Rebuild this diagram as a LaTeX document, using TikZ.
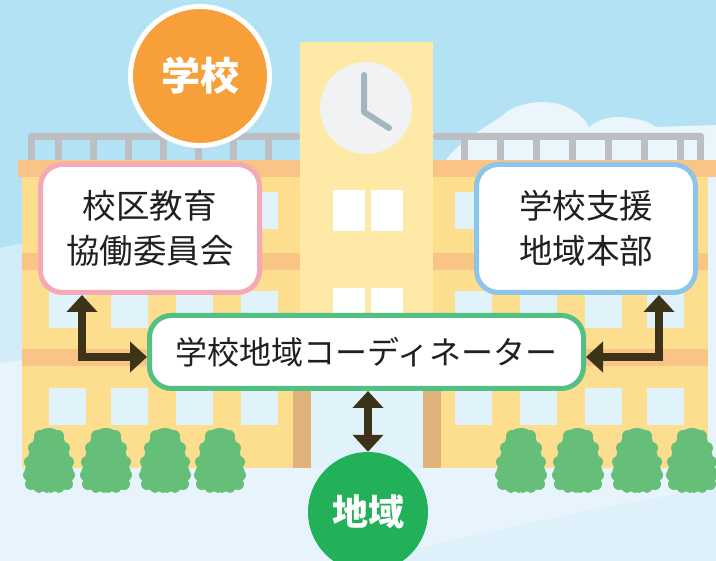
\documentclass[tikz,border=0pt]{standalone}
\usepackage{fontspec}
\setmainfont{Noto Sans CJK JP}
\usetikzlibrary{arrows.meta}

\definecolor{sky}{HTML}{B4E2F5}
\definecolor{hillblue}{HTML}{D3ECF9}
\definecolor{groundpale}{HTML}{E7F4FB}
\definecolor{grounddeep}{HTML}{DEF0FA}
\definecolor{cloudwhite}{HTML}{EAF6FC}
\definecolor{wallyellow}{HTML}{FCDE8E}
\definecolor{toweryellow}{HTML}{FEEAA6}
\definecolor{bandorange}{HTML}{FAC487}
\definecolor{glass}{HTML}{E0F2FA}
\definecolor{rail}{HTML}{BDBEC1}
\definecolor{pillar}{HTML}{E1B37B}
\definecolor{clockface}{HTML}{F0F2F4}
\definecolor{clockhand}{HTML}{A3B5BF}
\definecolor{leaf}{HTML}{66BF78}
\definecolor{schoolorange}{HTML}{F7A03A}
\definecolor{areagreen}{HTML}{22B159}
\definecolor{pinkline}{HTML}{F4A9B6}
\definecolor{blueline}{HTML}{8DC5EA}
\definecolor{greenline}{HTML}{52BF83}
\definecolor{arrowbrown}{HTML}{3C3318}
\definecolor{ink}{HTML}{231F20}

\tikzset{
  infobox/.style={draw, fill=white, line width=5pt, rounded corners=22pt,
    inner sep=0pt, align=center, text=ink},
  badge/.style={circle, inner sep=0pt, text=white},
  link/.style={draw=arrowbrown, line width=8pt, line join=miter,
    {Triangle[width=30pt,length=17pt]}-{Triangle[width=30pt,length=17pt]}},
  tree/.pic={
    \fill[leaf]
      (0,17) circle[radius=16pt]
      (-8,31) circle[radius=13pt] (8,31) circle[radius=13pt]
      (-12,47) circle[radius=13pt] (12,47) circle[radius=13pt]
      (0,51) circle[radius=14pt]
      (-9,55) circle[radius=10pt] (9,55) circle[radius=10pt]
      (-9,9) circle[radius=6pt] (9,9) circle[radius=6pt]
      (-15,21) circle[radius=6pt] (15,21) circle[radius=6pt]
      (-19,35) circle[radius=6pt] (19,35) circle[radius=6pt]
      (-20,48) circle[radius=6pt] (20,48) circle[radius=6pt]
      (-18,57) circle[radius=6pt] (18,57) circle[radius=6pt]
      (-10,61) circle[radius=5pt] (10,61) circle[radius=5pt]
      (-2,61) circle[radius=5pt] (2,61) circle[radius=5pt];
  }
}

\begin{document}
\begin{tikzpicture}[x=1pt,y=-1pt]
\useasboundingbox (0,0) rectangle (716,561);

% sky, cloud and ground
\fill[sky] (0,0) rectangle (716,561);
\fill[cloudwhite] (446,160) .. controls (460,140) and (490,125) .. (503,115)
  .. controls (515,103) and (545,98) .. (565,106)
  .. controls (578,112) and (586,120) .. (589,128)
  .. controls (595,120) and (610,115) .. (630,118)
  .. controls (645,120) and (652,124) .. (656,127)
  -- (716,125) -- (716,170) -- (446,170) -- cycle;
\fill[hillblue] (0,248) .. controls (40,238) and (120,236) .. (220,242)
  -- (220,561) -- (0,561) -- cycle;
\fill[groundpale] (0,363) .. controls (150,345) and (500,230) .. (716,170)
  -- (716,561) -- (0,561) -- cycle;
\fill[grounddeep] (360,561) .. controls (480,535) and (600,505) .. (716,488)
  -- (716,561) -- cycle;

% roof railings
\fill[rail, rounded corners=3pt] (28,133) rectangle (300,140);
\foreach \px in {28,55,90,125,160,195,230,265}
  \fill[rail] (\px,136) rectangle ++(7,24);
\fill[rail, rounded corners=3pt] (433,133) rectangle (704,140);
\foreach \px in {461,497,533,569,605,641,677,697}
  \fill[rail] (\px,136) rectangle ++(7,24);

% wings
\fill[wallyellow] (22,177) rectangle (300,468);
\fill[wallyellow] (433,177) rectangle (708,468);
\fill[bandorange] (18,160) rectangle (300,177);
\fill[bandorange] (433,160) rectangle (716,177);
\foreach \by in {253,349} {
  \fill[bandorange] (22,\by) rectangle (300,\by+17);
  \fill[bandorange] (433,\by) rectangle (708,\by+17);
}
\foreach \wy in {192,291,388} {
  \foreach \wx in {49,111,176,241}
    \fill[glass] (\wx,\wy) rectangle ++(37,37);
  \foreach \wx in {455,520,585,647}
    \fill[glass] (\wx,\wy) rectangle ++(37,37);
}

% clock tower with entrance
\fill[toweryellow] (300,42) rectangle (433,385);
\fill[glass] (300,385) rectangle (433,468);
\fill[pillar] (293,385) rectangle (311,468);
\fill[pillar] (423,385) rectangle (441,468);
\foreach \wy in {190,288} {
  \fill[white] (333,\wy) rectangle ++(32,41);
  \fill[white] (371,\wy) rectangle ++(32,41);
}
\fill[clockface] (366,108) circle[radius=46pt];
\draw[clockhand, line width=6pt, line cap=round, line join=round]
  (364,75) -- (364,112) -- (389,128);

% trees
\foreach \tx in {49,106,165,220,521,578,637,692}
  \pic at (\tx,427) {tree};

% nodes
\node[badge, fill=schoolorange, draw=white, line width=5pt, minimum size=139pt,
  font=\bfseries\fontsize{39}{39}\selectfont] (gakko) at (200,76) {学校};
\node[infobox, draw=pinkline, minimum width=219pt, minimum height=128pt,
  font=\fontsize{33.5}{45}\selectfont] (iinkai) at (150,228.5) {校区教育\\協働委員会};
\node[infobox, draw=blueline, minimum width=219pt, minimum height=128pt,
  font=\fontsize{33.5}{45}\selectfont] (honbu) at (586,228.5) {学校支援\\地域本部};
\node[infobox, draw=greenline, minimum width=434pt, minimum height=73pt,
  font=\fontsize{32}{40}\selectfont] (coord) at (366.5,352) {学校地域コーディネーター};
\node[badge, fill=areagreen, minimum size=120pt,
  font=\bfseries\fontsize{36}{36}\selectfont] (chiiki) at (368,512) {地域};

% connectors
\coordinate (lbend) at (82,357);
\coordinate (rbend) at (659,357);
\draw[link] (iinkai.south -| lbend) -- (lbend) -- (lbend -| coord.west);
\draw[link] (honbu.south -| rbend) -- (rbend) -- (rbend -| coord.east);
\draw[link] (coord.south -| chiiki.north) -- (chiiki.north);
\end{tikzpicture}
\end{document}
